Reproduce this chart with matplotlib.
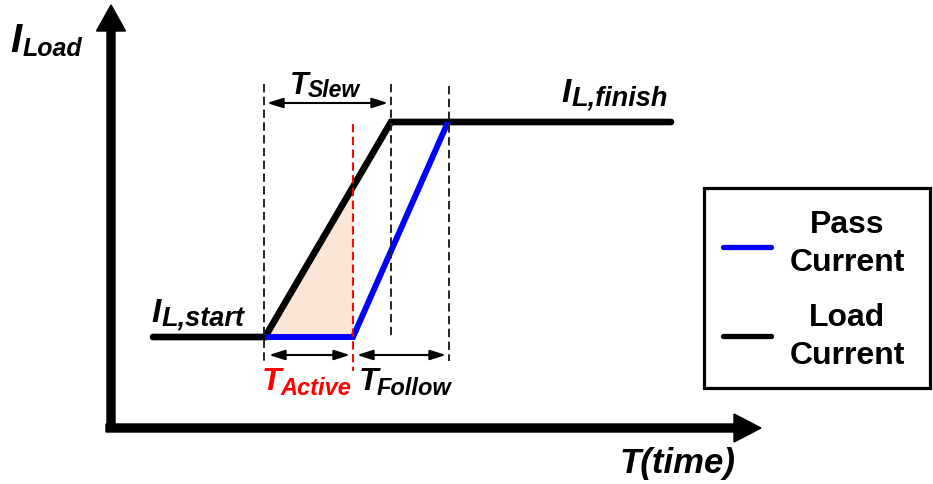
import matplotlib
matplotlib.use("Agg")
import matplotlib.pyplot as plt
from matplotlib.patches import Rectangle

plt.rcParams['lines.scale_dashes'] = False

# ---- data (schematic units: x = time, y = current; screen-like, y grows downward) ----
t_load = [153, 265, 391, 671]
i_load = [338, 338, 123, 123]
t_pass = [265, 353, 448]
i_pass = [338, 338, 123]
t_active_start = 265
t_active_end = 353
t_slew_end = 391
t_follow_end = 448
legend_labels = ["Pass\nCurrent", "Load\nCurrent"]

W, H = 933, 485
fig = plt.figure(figsize=(W / 100, H / 100), dpi=100)
ax = fig.add_axes([0, 0, 1, 1])
ax.set_xlim(0, W)
ax.set_ylim(H, 0)
ax.axis('off')

FONT = 'Liberation Sans'
BLUE = '#0000FF'
RED = '#FF0000'
DASH = (0, (6, 3.2))

# shaded area between load ramp and pass current during T_active
slope = (i_load[2] - i_load[1]) / (t_load[2] - t_load[1])
y_at_active_end = i_load[1] + slope * (t_active_end - t_load[1])
ax.fill([t_active_start, t_active_end, t_active_end],
        [i_load[1], i_load[1], y_at_active_end],
        color='#FBE5D6', lw=0, zorder=1)

# axes arrows
ax.arrow(111, 432, 0, -400, width=8, head_width=29, head_length=26,
         length_includes_head=False, color='black', zorder=5)
ax.arrow(106, 429, 628, 0, width=8, head_width=28, head_length=27,
         length_includes_head=False, color='black', zorder=5)

# load and pass current
ax.plot(t_load, i_load, color='black', lw=4.8, solid_capstyle='round',
        solid_joinstyle='miter', zorder=3)
ax.plot(t_pass, i_pass, color=BLUE, lw=4.3, solid_capstyle='butt',
        solid_joinstyle='miter', zorder=4)

# dashed guides
ax.plot([t_active_start - 1, t_active_start - 1], [85, 365], color='#222222', lw=1.4, ls=DASH, zorder=6)
ax.plot([t_slew_end, t_slew_end], [85, 338], color='#222222', lw=1.4, ls=DASH, zorder=6)
ax.plot([t_follow_end + 1, t_follow_end + 1], [87, 362], color='#222222', lw=1.4, ls=DASH, zorder=6)
ax.plot([t_active_end, t_active_end], [125, 372], color=RED, lw=1.4, ls=DASH, zorder=6)

# dimension arrows
def dim_arrow(x0, x1, y):
    ax.annotate('', xy=(x1, y), xytext=(x0, y),
                arrowprops=dict(arrowstyle='<|-|>,head_length=0.95,head_width=0.3',
                                lw=1.5, color='black', shrinkA=0, shrinkB=0), zorder=6)

dim_arrow(t_active_start + 2, t_slew_end - 3, 104)
dim_arrow(t_active_start + 4, t_active_end - 3, 356)
dim_arrow(t_active_end + 4, t_follow_end - 2, 356)

# labels with subscripts
def label(x, y, main, sub, xs, ys, size, subsize, color='black'):
    ax.text(x, y, main, fontfamily=FONT, fontweight='bold', fontstyle='italic',
            fontsize=size, color=color, ha='left', va='baseline', zorder=7)
    ax.text(xs, ys, sub, fontfamily=FONT, fontweight='bold', fontstyle='italic',
            fontsize=subsize, color=color, ha='left', va='baseline', zorder=7)

label(10, 52, 'I', 'Load', 23, 56, 29, 18)
label(290, 94, 'T', 'Slew', 308, 97, 22, 16.5)
label(151, 322, 'I', 'L,start', 162, 326, 24, 19.5)
label(561, 102, 'I', 'L,finish', 572, 106, 24, 19.5)
label(262, 390, 'T', 'Active', 280, 395, 23, 17, color=RED)
label(359, 390, 'T', 'Follow', 377, 395, 23, 17)
ax.text(620, 473, 'T(time)', fontfamily=FONT, fontweight='bold', fontstyle='italic',
        fontsize=25, color='black', ha='left', va='baseline')

# legend box
ax.add_patch(Rectangle((704, 189), 226, 200, fill=False, lw=2.3, ec='black', zorder=8))
ax.plot([723, 771], [248, 248], color=BLUE, lw=3.8, solid_capstyle='round', zorder=8)
ax.plot([723, 771], [337, 337], color='black', lw=3.8, solid_capstyle='round', zorder=8)
for lab, yc in zip(legend_labels, [244, 337]):
    ax.text(847, yc, lab, fontfamily=FONT, fontweight='bold', fontsize=23,
            ha='center', va='center', multialignment='center', linespacing=1.33, zorder=8)

fig.savefig('out.png', dpi=100)
